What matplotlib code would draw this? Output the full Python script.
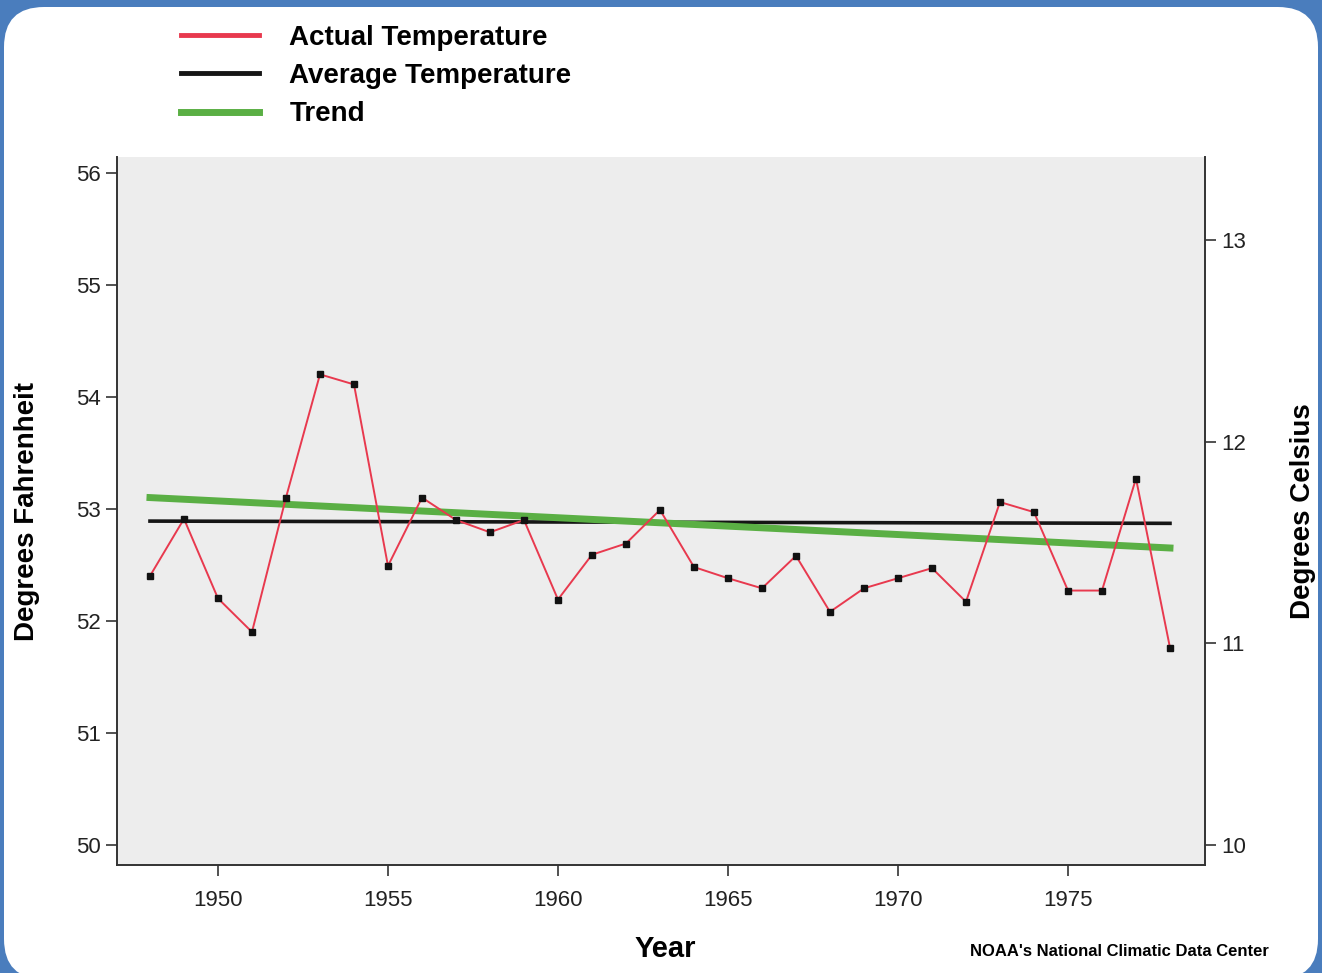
import matplotlib.pyplot as plt
from matplotlib.patches import FancyBboxPatch
from matplotlib.transforms import IdentityTransform

plt.rcParams['font.family'] = ['Liberation Sans', 'DejaVu Sans']

# Annual mean temperature (deg F)
years = list(range(1948, 1979))
actual_f = [52.40, 52.91, 52.20, 51.90, 53.10, 54.20, 54.11, 52.49, 53.10, 52.90,
            52.79, 52.90, 52.19, 52.59, 52.69, 52.99, 52.48, 52.38, 52.29, 52.58,
            52.08, 52.29, 52.38, 52.47, 52.17, 53.06, 52.97, 52.27, 52.27, 53.27,
            51.76]
average_years = [1948, 1978]
average_f = [52.89, 52.87]
trend_years = [1948, 1978]
trend_f = [53.10, 52.65]

f_ticks = [50, 51, 52, 53, 54, 55, 56]
c_ticks = [10, 11, 12, 13]
year_ticks = [1950, 1955, 1960, 1965, 1970, 1975]

fig = plt.figure(figsize=(13.22, 9.73), dpi=100)
fig.patch.set_facecolor('#4a7dbd')

# white rounded panel inside the blue frame
panel = FancyBboxPatch((4, -6), 1314, 972, boxstyle='round,pad=0,rounding_size=40',
                       facecolor='white', edgecolor='none', transform=IdentityTransform())
fig.add_artist(panel)
panel.set_zorder(0)

ax = fig.add_axes([0.0885, 0.111, 0.823, 0.7276])
ax.set_facecolor('#ededed')

l1, = ax.plot(years, actual_f, color='#e8394e', lw=1.4, marker='s', ms=5,
              mfc='#111111', mec='#111111', zorder=3)
l2, = ax.plot(average_years, average_f, color='#151515', lw=2.6, zorder=2)
l3, = ax.plot(trend_years, trend_f, color='#5aaf44', lw=5, zorder=2)

ax.set_xlim(1947.03, 1979.03)
ax.set_ylim(49.82, 56.14)
ax.set_xticks(year_ticks)
ax.set_yticks(f_ticks)
ax.tick_params(labelsize=16, length=8, width=1.2, colors='#333333', labelcolor='#222222')
ax.tick_params(axis='x', pad=10)
for s in ['left', 'bottom']:
    ax.spines[s].set_color('#333333')
    ax.spines[s].set_linewidth(1.4)
ax.spines['top'].set_visible(False)
ax.spines['right'].set_visible(False)
ax.set_ylabel('Degrees Fahrenheit', fontsize=20, fontweight='bold', labelpad=26)

# Celsius axis on the right
ax2 = ax.twinx()
lo, hi = ax.get_ylim()
ax2.set_ylim((lo - 32) * 5 / 9, (hi - 32) * 5 / 9)
ax2.set_yticks(c_ticks)
ax2.tick_params(labelsize=16, length=8, width=1.2, colors='#333333', labelcolor='#222222')
ax2.spines['right'].set_color('#333333')
ax2.spines['right'].set_linewidth(1.4)
for s in ['left', 'top', 'bottom']:
    ax2.spines[s].set_visible(False)
ax2.set_ylabel('Degrees Celsius', fontsize=20, fontweight='bold', labelpad=32)

fig.text(0.503, 0.025, 'Year', fontsize=21, fontweight='bold', ha='center', va='center')
fig.text(0.96, 0.022, "NOAA's National Climatic Data Center", fontsize=12,
         fontweight='bold', ha='right', va='center')

fig.legend([l1, l2, l3], ['Actual Temperature', 'Average Temperature', 'Trend'],
           loc='upper left', bbox_to_anchor=(0.118, 1.0), frameon=False,
           prop={'size': 20, 'weight': 'bold'}, handlelength=2.8,
           handletextpad=1.1, labelspacing=0.44)
hs = fig.legends[0].legend_handles
hs[0].set_marker('')
hs[0].set_linewidth(3.5)
hs[1].set_linewidth(3.5)
hs[2].set_linewidth(5)

fig.savefig('out.png', dpi=100, facecolor=fig.get_facecolor())
